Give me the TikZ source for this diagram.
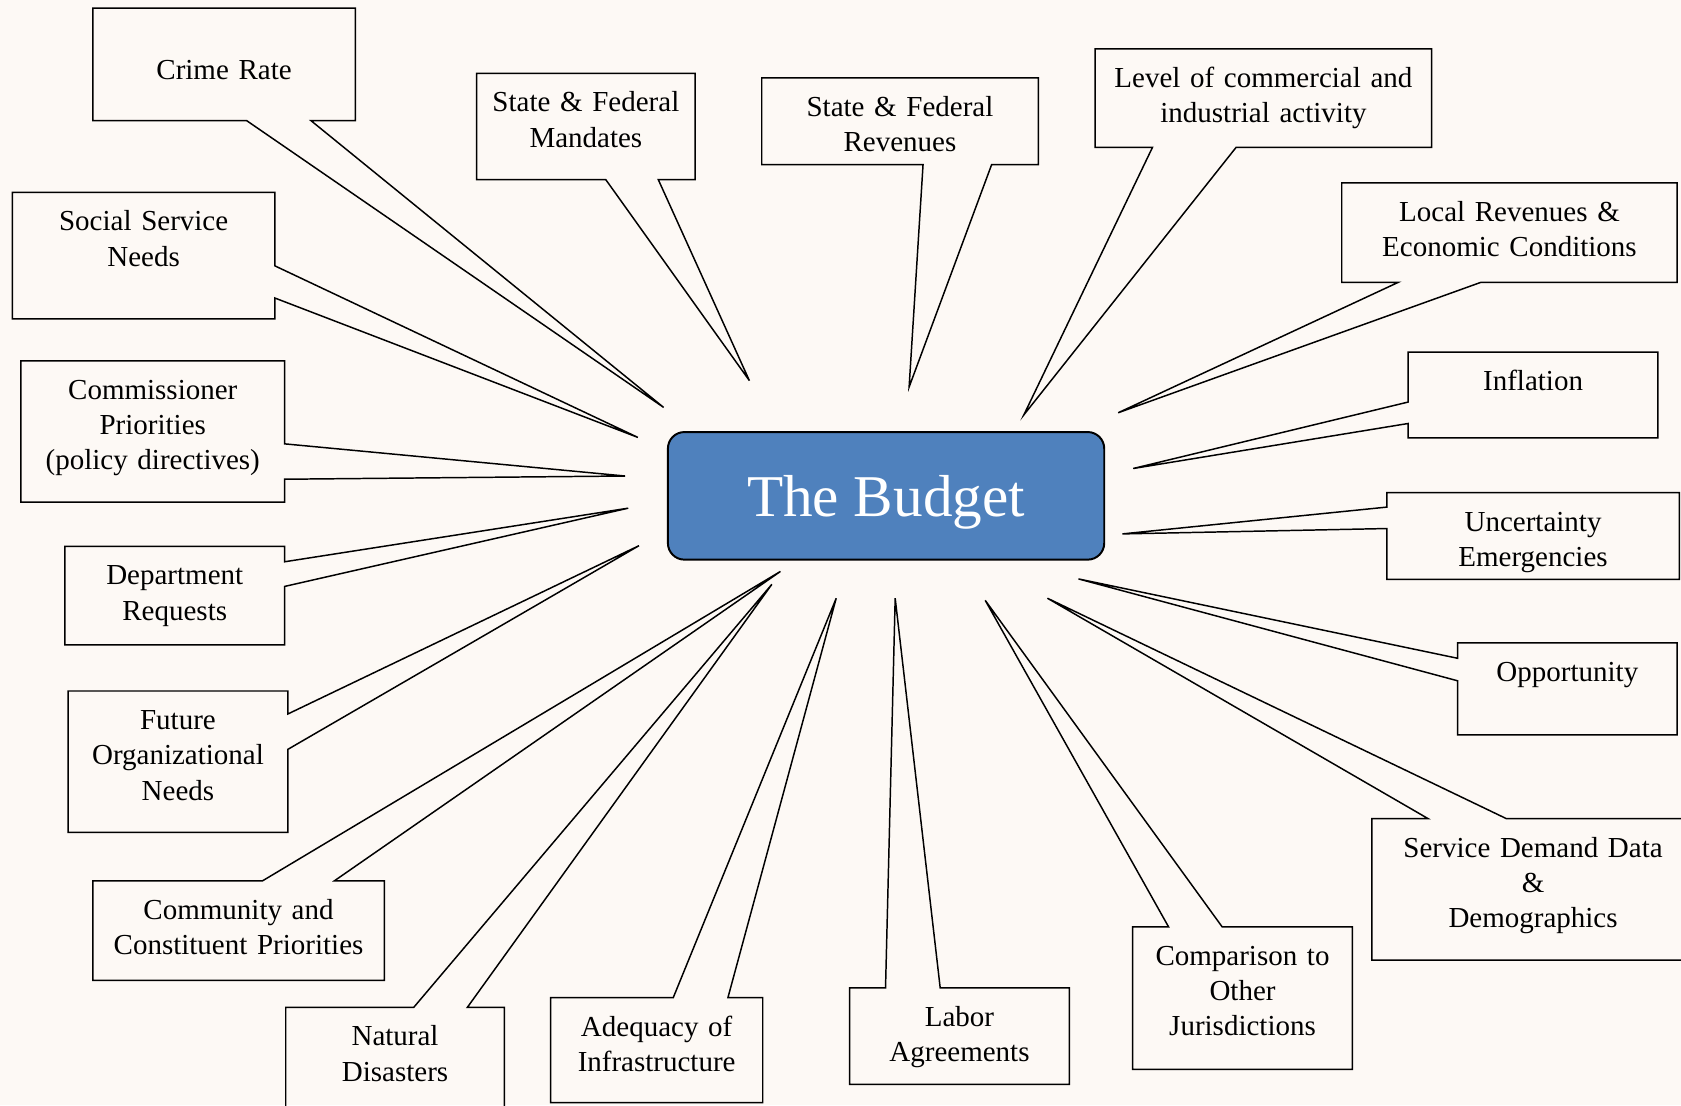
\documentclass[tikz,border=0pt]{standalone}
\usepackage{fontspec}
\setmainfont{Liberation Serif}
\usetikzlibrary{fit}
\definecolor{paper}{RGB}{253,249,245}
\definecolor{budgetblue}{RGB}{79,129,189}

\begin{document}
\begin{tikzpicture}
  [x=0.4344pt, y=-0.4344pt,
    every node/.style={inner sep=0pt},
    box/.style={rectangle, draw=none},
    frame/.style={line width=0.6pt},
    lbl/.style={anchor=base, yshift=-15.6pt, text width=150pt, align=center,
      font=\fontsize{11.75}{14.3}\selectfont},
    budget/.style={rectangle, rounded corners=6.7pt, draw=black, line width=0.8pt,
      fill=budgetblue, text=white, text depth=0pt,
      minimum width=176.8pt, minimum height=51.7pt,
      font=\fontsize{24}{28}\selectfont},
  ]

  \useasboundingbox (0,0) rectangle (1568,1031);
  \fill[paper] (0,0) rectangle (1568,1031);

  \node[budget] (budget) at (826.5,462.5) {The Budget};

  \node[box, fit={(87,8) (331,112)}, label={[lbl, yshift=-13.3pt]north:Crime Rate}] (crime) {};
  \node[box, fit={(12,180) (256,297)}, label={[lbl]north:Social Service\\Needs}] (social) {};
  \node[box, fit={(20,337) (265,468)}, label={[lbl]north:Commissioner\\Priorities\\(policy directives)}] (commis) {};
  \node[box, fit={(61,510) (265,601)}, label={[lbl]north:Department\\Requests}] (dept) {};
  \node[box, fit={(64,645) (268,776)}, label={[lbl]north:Future\\Organizational\\Needs}] (future) {};
  \node[box, fit={(87,822) (358,914)}, label={[lbl]north:Community and\\Constituent Priorities}] (community) {};
  \node[box, fit={(267,940) (470,1045)}, label={[lbl]north:Natural\\Disasters}] (natural) {};
  \node[box, fit={(514,931) (711,1028)}, label={[lbl]north:Adequacy of\\Infrastructure}] (adequacy) {};
  \node[box, fit={(793,922) (997,1011)}, label={[lbl]north:Labor\\Agreements}] (labor) {};
  \node[box, fit={(1057,865) (1261,997)}, label={[lbl]north:Comparison to\\Other\\Jurisdictions}] (compar) {};
  \node[box, fit={(1280,764) (1580,895)}, label={[lbl]north:Service Demand Data\\\&\\Demographics}] (service) {};
  \node[box, fit={(1360,600) (1564,685)}, label={[lbl]north:Opportunity}] (opport) {};
  \node[box, fit={(1294,460) (1566,540)}, label={[lbl]north:Uncertainty\\Emergencies}] (uncert) {};
  \node[box, fit={(1314,329) (1546,408)}, label={[lbl]north:Inflation}] (infl) {};
  \node[box, fit={(1252,171) (1564,263)}, label={[lbl]north:Local Revenues \&\\Economic Conditions}] (local) {};
  \node[box, fit={(1022,46) (1335,137)}, label={[lbl]north:Level of commercial and\\industrial activity}] (level) {};
  \node[box, fit={(711,73) (968,153)}, label={[lbl]north:State \& Federal\\Revenues}] (revenues) {};
  \node[box, fit={(445,69) (648,167)}, label={[lbl]north:State \& Federal\\Mandates}] (mandates) {};

  \coordinate (tcrime) at (619,380);
  \coordinate (tsocial) at (595,408);
  \coordinate (tcommis) at (583,444);
  \coordinate (tdept) at (586,474);
  \coordinate (tfuture) at (596,509);
  \coordinate (tcommunity) at (728,533);
  \coordinate (tnatural) at (720,545);
  \coordinate (tadequacy) at (780,558);
  \coordinate (tlabor) at (835,558);
  \coordinate (tcompar) at (919,560);
  \coordinate (tservice) at (977,558);
  \coordinate (topport) at (1006,540);
  \coordinate (tuncert) at (1047,498);
  \coordinate (tinfl) at (1057,437);
  \coordinate (tlocal) at (1043,385);
  \coordinate (tlevel) at (955,387);
  \coordinate (trevenues) at (848,361);
  \coordinate (tmandates) at (699,355);

  \draw[frame] (crime.south west) |- (crime.north east) |- (290,0 |- crime.south) -- (tcrime) -- (230,0 |- crime.south) -- cycle;
  \draw[frame] (mandates.south west) |- (mandates.north east) |- (614,0 |- mandates.south) -- (tmandates) -- (565,0 |- mandates.south) -- cycle;
  \draw[frame] (revenues.south west) |- (revenues.north east) |- (925,0 |- revenues.south) -- (trevenues) -- (861,0 |- revenues.south) -- cycle;
  \draw[frame] (level.south west) |- (level.north east) |- (1153,0 |- level.south) -- (tlevel) -- (1075,0 |- level.south) -- cycle;
  \draw[frame] (local.south west) |- (local.north east) |- (1381,0 |- local.south) -- (tlocal) -- (1304,0 |- local.south) -- cycle;

  \draw[frame] (social.north east) -| (social.south west) -| (social.east |- 0,278) -- (tsocial) -- (social.east |- 0,248) -- cycle;
  \draw[frame] (commis.north east) -| (commis.south west) -| (commis.east |- 0,447) -- (tcommis) -- (commis.east |- 0,414) -- cycle;
  \draw[frame] (dept.north east) -| (dept.south west) -| (dept.east |- 0,547) -- (tdept) -- (dept.east |- 0,524) -- cycle;
  \draw[frame] (future.north east) -| (future.south west) -| (future.east |- 0,699) -- (tfuture) -- (future.east |- 0,666) -- cycle;

  \draw[frame] (infl.south west) -| (infl.north east) -| (infl.west |- 0,375) -- (tinfl) -- (infl.west |- 0,395) -- cycle;
  \draw[frame] (uncert.south west) -| (uncert.north east) -| (uncert.west |- 0,473) -- (tuncert) -- (uncert.west |- 0,493) -- cycle;
  \draw[frame] (opport.south west) -| (opport.north east) -| (opport.west |- 0,614) -- (topport) -- (opport.west |- 0,635) -- cycle;

  \draw[frame] (service.north east) |- (service.south west) |- (1332,0 |- service.north) -- (tservice) -- (1405,0 |- service.north) -- cycle;
  \draw[frame] (compar.north east) |- (compar.south west) |- (1090,0 |- compar.north) -- (tcompar) -- (1140,0 |- compar.north) -- cycle;
  \draw[frame] (labor.north east) |- (labor.south west) |- (826,0 |- labor.north) -- (tlabor) -- (877,0 |- labor.north) -- cycle;
  \draw[frame] (adequacy.north east) |- (adequacy.south west) |- (628,0 |- adequacy.north) -- (tadequacy) -- (679,0 |- adequacy.north) -- cycle;
  \draw[frame] (natural.north east) |- (natural.south west) |- (386,0 |- natural.north) -- (tnatural) -- (436,0 |- natural.north) -- cycle;
  \draw[frame] (community.north east) |- (community.south west) |- (245,0 |- community.north) -- (tcommunity) -- (312,0 |- community.north) -- cycle;
\end{tikzpicture}
\end{document}
